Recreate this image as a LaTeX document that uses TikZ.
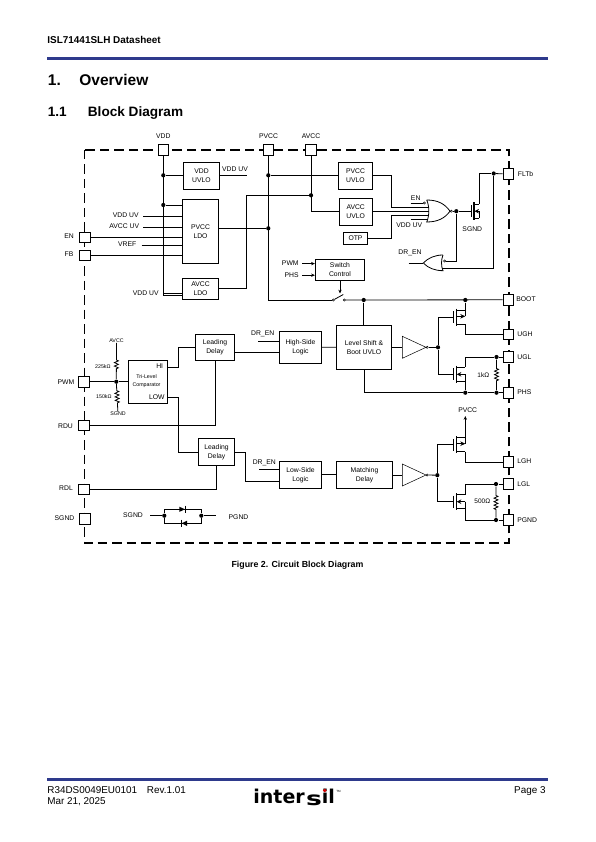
\documentclass[tikz,border=0pt]{standalone}
\usepackage{fontspec}
\setmainfont{Liberation Sans}
\usepackage{tikz}
\usetikzlibrary{arrows.meta,decorations.pathmorphing}
\definecolor{rulecol}{RGB}{46,58,140}

\begin{document}
\begin{tikzpicture}[
  x=1pt, y=-1pt,
  line width=0.8pt,
  blk/.style={draw, inner sep=0, align=center, font=\fontsize{6.8}{9}\selectfont},
  pad/.style={draw, fill=white, inner sep=0, minimum size=10.5pt},
  lab/.style={inner sep=0, align=center, font=\fontsize{6.8}{8}\selectfont},
  tiny/.style={inner sep=0, align=center, font=\fontsize{5.3}{6.5}\selectfont},
  head/.style={inner sep=0, anchor=base west, font=\fontsize{9.9}{12}\selectfont},
  dot/.style={circle, fill, inner sep=0, minimum size=4.2pt},
  contact/.style={circle, draw, line width=0.5pt, inner sep=0, minimum size=2.2pt},
  frame/.style={line width=1.6pt, dash pattern=on 9.5pt off 5pt},
  arr/.style={-{Stealth[length=3.8pt,width=3.3pt]}},
  res/.style 2 args={decorate, decoration={zigzag, amplitude=2pt, segment length=3.5pt, pre length=#1, post length=#2}},
  pics/nmos/.style={code={
    \draw[line width=1.2pt] (2,-8.7) -- (2,8.7);
    \draw (-0.5,-6) -- (-0.5,6);
    \draw (2,-7) -- (#1,-7) (2,7) -- (#1,7) (#1,0) -- (#1,7);
    \draw[-{Stealth[length=4.5pt,width=4.5pt]}] (#1,0) -- (2.5,0);
    \coordinate (g) at (-0.5,0); \coordinate (d) at (#1,-7); \coordinate (s) at (#1,7);
  }},
  pics/pmos/.style={code={
    \draw[line width=1.2pt] (2,-8.7) -- (2,8.7);
    \draw (-0.5,-6) -- (-0.5,6);
    \draw (2,-7) -- (#1,-7) (2,7) -- (#1,7) (#1,-7) -- (#1,-1);
    \draw[-{Stealth[length=5pt,width=4.5pt]}] (2.5,-1) -- (#1,-1);
    \coordinate (g) at (-0.5,0); \coordinate (d) at (#1,-7); \coordinate (s) at (#1,7);
  }}
]
\useasboundingbox (0,0) rectangle (595,842);

\node[head, font=\fontsize{9.95}{12}\bfseries] (doctitle) at (47,43.5) {ISL71441SLH Datasheet};
\fill[rulecol] (47,57.3) rectangle (548,60);
\node[head, font=\fontsize{15.5}{16}\bfseries] (secnum) at (47.5,85.5) {1.};
\node[head, font=\fontsize{15.5}{16}\bfseries] (sec) at (79,85.5) {Overview};
\node[head, font=\fontsize{13.6}{16}\bfseries] (subnum) at (47.5,116.2) {1.1};
\node[head, font=\fontsize{13.6}{16}\bfseries] (sub) at (87.5,116.2) {Block Diagram};

\draw[frame] (84.3,150) rectangle (508.7,542.7);

\node[pad] (vddpad) at (163.3,150) {};
\node[pad] (pvccpad) at (268.3,150) {};
\node[pad] (avccpad) at (311,150) {};
\node[pad] (enpad) at (85,237.3) {};
\node[pad] (fbpad) at (85,255.3) {};
\node[pad] (pwmpad) at (83.7,381.7) {};
\node[pad] (rdupad) at (83.7,425.3) {};
\node[pad] (rdlpad) at (83.7,489.3) {};
\node[pad] (sgndpad) at (84.7,519) {};
\node[pad] (fltpad) at (508.3,174) {};
\node[pad] (bootpad) at (508.3,299.8) {};
\node[pad] (ughpad) at (508.3,334.3) {};
\node[pad] (uglpad) at (508.3,357) {};
\node[pad] (phspad) at (508.3,392.7) {};
\node[pad] (lghpad) at (508.3,462) {};
\node[pad] (lglpad) at (508.3,484) {};
\node[pad] (pgndpad) at (508.3,520) {};

\node[lab] (vddlab) at (163.3,136.5) {VDD};
\node[lab] (pvcclab) at (268.5,136.5) {PVCC};
\node[lab] (avcclab) at (311,136.5) {AVCC};
\node[lab] (enlab) at (69,236.5) {EN};
\node[lab] (fblab) at (69,254.5) {FB};
\node[lab] (pwmlab) at (66,382) {PWM};
\node[lab] (rdulab) at (65.5,426) {RDU};
\node[lab] (rdllab) at (66,488.5) {RDL};
\node[lab] (sgndlab) at (64.5,518.5) {SGND};
\node[lab, anchor=west] (fltlab) at (517.5,174) {FLTb};
\node[lab, anchor=west] (bootlab) at (516,299.5) {BOOT};
\node[lab, anchor=west] (ughlab) at (517,334) {UGH};
\node[lab, anchor=west] (ugllab) at (517,357) {UGL};
\node[lab, anchor=west] (phslab) at (517,392.5) {PHS};
\node[lab, anchor=west] (lghlab) at (517,461.5) {LGH};
\node[lab, anchor=west] (lgllab) at (517,484) {LGL};
\node[lab, anchor=west] (pgndlab) at (517,520) {PGND};

\node[blk, minimum width=36.4pt, minimum height=27pt] (vddbox) at (201.5,175.8) {VDD\\UVLO};
\node[blk, minimum width=36.4pt, minimum height=64pt] (pvccldo) at (200.5,231.3) {PVCC\\LDO};
\node[blk, minimum width=36.4pt, minimum height=21pt] (avccldo) at (200.5,288.8) {AVCC\\LDO};
\node[blk, minimum width=34.4pt, minimum height=27pt] (pvccu) at (355.5,175.7) {PVCC\\UVLO};
\node[blk, minimum width=32.7pt, minimum height=27pt] (avccu) at (355.7,211.8) {AVCC\\UVLO};
\node[blk, minimum width=24.4pt, minimum height=12pt] (otp) at (355.5,238.3) {OTP};
\node[blk, minimum width=49.4pt, minimum height=21pt] (swctl) at (340,269.8) {Switch\\Control};
\node[blk, minimum width=55.4pt, minimum height=44pt] (lvlbox) at (364,347.3) {Level Shift \&\\Boot UVLO};
\node[blk, minimum width=42.4pt, minimum height=31.7pt] (hslogic) at (300.5,347.2) {High-Side\\Logic};
\node[blk, minimum width=39.4pt, minimum height=26.4pt] (lead1) at (215,347.5) {Leading\\Delay};
\node[blk, minimum width=39.4pt, minimum height=43pt] (tribox) at (148,381.8) {};
\node[blk, minimum width=36.4pt, minimum height=27.4pt] (lead2) at (216.5,452) {Leading\\Delay};
\node[blk, minimum width=42.4pt, minimum height=27pt] (lslogic) at (300.5,474.8) {Low-Side\\Logic};
\node[blk, minimum width=56.4pt, minimum height=27pt] (match) at (364.5,474.8) {Matching\\Delay};

\node[lab, anchor=east] (hilab) at (163.5,366) {HI};
\node[tiny] (trilab) at (146.5,381) {Tri-Level\\[1pt]Comparator};
\node[lab, anchor=east] (lowlab) at (165,396.7) {LOW};

\node[dot] (jv1) at (163.3,175.3) {};
\node[dot] (jv2) at (163.3,205) {};
\node[dot] (jp1) at (268.3,175.3) {};
\node[dot] (jp2) at (268.3,228.3) {};
\node[dot] (ja1) at (311,195.3) {};
\node[dot] (jout) at (456.3,211.2) {};
\node[dot] (jflt) at (493.7,173.5) {};
\node[dot] (jb1) at (363.7,300) {};
\node[dot] (jb2) at (465.3,300) {};
\node[dot] (jbuf1) at (438,347.3) {};
\node[dot] (jugl) at (496.5,357) {};
\node[dot] (jphs1) at (465.3,392.7) {};
\node[dot] (jphs2) at (496.5,392.7) {};
\node[dot] (jbuf2) at (437.3,475.2) {};
\node[dot] (jlgl) at (496,484) {};
\node[dot] (jpg) at (496,520) {};
\node[dot] (jpwm) at (116.3,381.7) {};
\node[dot] (jd1) at (164.3,515.7) {};
\node[dot] (jd2) at (201.3,515.7) {};

\node[lab, anchor=east] (vuv1lab) at (139,215.5) {VDD UV};
\node[lab, anchor=east] (auvlab) at (139.5,226.5) {AVCC UV};
\node[lab, anchor=east] (vreflab) at (136.7,244.5) {VREF};
\node[lab, anchor=east] (vuv2lab) at (159,293) {VDD UV};
\node[lab] (vuv3lab) at (235,169.3) {VDD UV};
\coordinate (vuv1) at (143.3,216);
\coordinate (auv) at (143.3,227);
\coordinate (vref) at (141.7,245.3);
\coordinate (vuv2) at (163,293.3);
\coordinate (vuvout) at (247.3,175.3);

\draw (vddpad.south) |- ([yshift=-6.5pt]avccldo.west);
\draw (jv1) -- (jv1 -| vddbox.west);
\draw (jv2) -- (jv2 -| pvccldo.west);
\draw (vuv1) -- (vuv1 -| pvccldo.west);
\draw (auv) -- (auv -| pvccldo.west);
\draw (enpad) -- (enpad -| pvccldo.west);
\draw (vref) -- (vref -| pvccldo.west);
\draw (fbpad) -- (fbpad -| pvccldo.west);
\draw (vuv2) -- (vuv2 -| avccldo.west);
\draw (vuvout -| vddbox.east) -- (vuvout);
\draw (jp2 -| pvccldo.east) -- (jp2);
\draw (jp1) -- (jp1 -| pvccu.west);
\coordinate (avbend) at (246.7,288.3);
\draw (avbend -| avccldo.east) -- (avbend) |- (ja1);
\draw (avccpad.south) |- (avccu.west);

\node[contact] (swl) at (333.3,300) {};
\node[contact] (swr) at (344.3,300) {};
\coordinate (swtip) at (343.3,294.5);
\coordinate (swarr) at (340,293.5);
\draw (pvccpad.south) |- (swl);
\draw (swl) -- (swtip);
\draw (swr) -- (bootpad);
\draw (jb1) -- (jb1 |- lvlbox.north);
\draw[arr] (swctl.south) -- (swarr);

\node[lab, anchor=east] (pwmin) at (299,263.3) {PWM};
\node[lab, anchor=east] (phsin) at (299,275) {PHS};
\coordinate (pwmend) at (302,263.6);
\coordinate (phsend) at (302,275.2);
\draw[arr] (pwmend) -- (pwmend -| swctl.west);
\draw[arr] (phsend) -- (phsend -| swctl.west);

\coordinate (gi1) at (428.5,207.7);
\coordinate (gi3) at (428.5,215.7);
\coordinate (gi4) at (428.2,219.3);
\coordinate (gout) at (450,211.2);
\coordinate (tp1) at (391,207.7);
\coordinate (tp3) at (391,215.7);
\coordinate (vuv3) at (410.7,219.3);
\coordinate (enend) at (410.7,203);
\node[contact] (enbub) at (424.3,203) {};
\node[contact] (gobub) at (451.3,211.2) {};
\draw (426.7,200) .. controls (429.5,206) and (429.5,216) .. (426.7,222)
  .. controls (438,222) and (445,218) .. (gout)
  .. controls (445,204) and (438,200) .. (426.7,200);
\draw (pvccu.east) -| (tp1) -- (gi1);
\draw (avccu.east) -- (avccu.east -| gi1);
\draw (otp.east) -| (tp3) -- (gi3);
\draw (vuv3) -- (gi4);
\draw (enend) -- (enbub);
\draw (gobub) -- (jout);
\node[lab] (enlab2) at (415.7,198.3) {EN};
\node[lab] (vuv4lab) at (409.3,225) {VDD UV};

\coordinate (g2out) at (423.3,263);
\coordinate (g2low) at (441.5,268.3);
\coordinate (drin) at (408.5,263);
\node[contact] (g2bub) at (444.6,261) {};
\draw (443,255) .. controls (441,260) and (441,266) .. (443,270.7)
  .. controls (435,270.7) and (428,268) .. (g2out)
  .. controls (428,258) and (435,255) .. (443,255);
\draw (drin) -- (g2out);
\draw (jout) |- (g2bub);
\draw (g2low) -| (jflt);
\node[lab] (drlab) at (410,253) {DR\_EN};

\pic (q0) at (472,211.2) {nmos=7.3};
\draw (jout) -- (q0g);
\draw (jflt) -- (fltpad);
\draw (jflt) -| (q0d);
\node[lab] (sgndq) at (472.3,229.3) {SGND};

\pic (q1) at (454.3,317.3) {pmos=11};
\pic (q2) at (454.3,374.3) {nmos=11};
\pic (q3) at (454.3,444.7) {pmos=11};
\pic (q4) at (454.3,501.7) {nmos=11};

\coordinate (b1in) at (402.3,347.3);
\coordinate (b1tip) at (426,347.3);
\coordinate (b2in) at (402.3,475);
\coordinate (b2tip) at (426,475);
\node[contact] (b1bub) at (427.2,347.3) {};
\node[contact] (b2bub) at (427.2,475) {};
\draw[line width=0.5pt] (402.3,336.3) -- (b1tip) -- (402.3,358.3) -- cycle;
\draw[line width=0.5pt] (402.3,464) -- (b2tip) -- (402.3,486) -- cycle;
\draw (lvlbox.east) -- (b1in);
\draw (hslogic.east) -- (lvlbox.west);
\draw (b1bub) -- (jbuf1);
\draw (match.east |- b2in) -- (b2in);
\draw (lslogic.east) -- (match.west);
\draw (b2bub) -- (jbuf2);

\draw (jbuf1) |- (q1g);
\draw (jbuf1) |- (q2g);
\draw (jbuf2) |- (q3g);
\draw (jbuf2) |- (q4g);
\draw (jb2) -- (q1d);
\draw (q1s) |- (ughpad);
\draw (jugl) -- (uglpad);
\draw (jugl) -| (q2d);
\draw (q2s) -- (jphs1);
\draw (lvlbox.south) |- (jphs1);
\draw (jphs1) -- (jphs2) -- (phspad);
\draw[res={9pt}{9pt}] (jugl) -- (jphs2);
\node[lab, font=\fontsize{6.5}{8}\selectfont] (r1k) at (483.3,374.7) {1kΩ};

\coordinate (pvccarr) at (465.3,416);
\node[lab] (pvcclab2) at (467.7,409.7) {PVCC};
\draw[arr] (q3d) -- (pvccarr);
\draw (q3s) |- (lghpad);
\draw (jlgl) -- (lglpad);
\draw (jlgl) -| (q4d);
\draw (q4s) |- (jpg);
\draw (jpg) -- (pgndpad);
\draw[res={9pt}{8pt}] (jlgl) -- (jpg);
\node[lab, font=\fontsize{6.5}{8}\selectfont] (r500) at (482.3,501.7) {500Ω};

\node[tiny] (avcctop) at (116.5,340.7) {AVCC};
\node[tiny] (sgndbot) at (118,414) {SGND};
\node[tiny, anchor=east] (r225) at (111,366.7) {225kΩ};
\node[tiny, anchor=east] (r150) at (112,397) {150kΩ};
\draw[res={17pt}{9pt}] (avcctop) -- (jpwm);
\draw[res={6.5pt}{8pt}] (jpwm) -- (sgndbot);
\draw (pwmpad) -- (jpwm) -- (jpwm -| tribox.west);

\coordinate (hibend) at (178.3,367.3);
\coordinate (lowbend) at (178.3,397);
\draw (hibend -| tribox.east) -- (hibend) |- ([yshift=0.2pt]lead1.west);
\draw (lowbend -| tribox.east) -- (lowbend) |- (lead2.west);
\draw (lead1.south) |- (rdupad);
\draw (lead2.south) |- (rdlpad);
\coordinate (lead1out) at (235,352.3);
\draw (lead1out) -- (lead1out -| hslogic.west);
\coordinate (dr1) at (258.3,341.3);
\draw (dr1) -- (dr1 -| hslogic.west);
\node[lab] (dr1lab) at (262.7,333.7) {DR\_EN};
\coordinate (lsbend) at (245.3,481.3);
\draw (lead2.east) -| (lsbend) -- (lsbend -| lslogic.west);
\coordinate (dr2) at (259.3,469.3);
\draw (dr2) -- (dr2 -| lslogic.west);
\node[lab] (dr2lab) at (264.3,462.7) {DR\_EN};

\node[lab] (sgndd) at (133,515.5) {SGND};
\node[lab] (pgndd) at (238.5,517) {PGND};
\coordinate (dl) at (150,515.7);
\coordinate (dr) at (215.7,515.7);
\draw (dl) -- (jd1);
\draw (jd2) -- (dr);
\draw (jd1) |- (jd2 |- 0,509.3) -- (jd2);
\draw (jd1) |- (jd2 |- 0,523.3) -- (jd2);
\fill (179.3,506.7) -- (185,509.3) -- (179.3,511.9) -- cycle;
\draw[line width=0.9pt] (185.6,505.5) -- (185.6,513.1);
\fill (187,520.7) -- (181.6,523.3) -- (187,525.9) -- cycle;
\draw[line width=0.9pt] (181,519.5) -- (181,527.1);

\node[lab, font=\fontsize{8.8}{10}\bfseries] (caption) at (297.5,565) {Figure 2. Circuit Block Diagram};

\fill[rulecol] (47,778) rectangle (548,780.7);
\node[head] (docnum) at (47,793.3) {R34DS0049EU0101};
\node[head] (rev) at (146.5,793.3) {Rev.1.01};
\node[head] (docdate) at (47,804.8) {Mar 21, 2025};
\node[head, anchor=base east] (pageno) at (546,793.3) {Page 3};
\node[inner sep=0, anchor=base west, font=\fontsize{19}{20}\bfseries] (logo1) at (253,803.3) {\fontspec{DejaVu Sans}inter};
\node[inner sep=0, anchor=base west, xscale=1.4, font=\fontsize{19}{20}\bfseries] (logo2) at (305.5,805.3) {\fontspec{DejaVu Sans}s};
\node[inner sep=0, anchor=base west, font=\fontsize{19}{20}\bfseries] (logo3) at (321.5,803.3) {\fontspec{DejaVu Sans}il};
\fill[red!85!black] (324.7,790.5) circle (1.9pt);
\node[inner sep=0, anchor=west, font=\fontsize{3}{4}\selectfont] (logotm) at (336,791) {TM};
\end{tikzpicture}
\end{document}
